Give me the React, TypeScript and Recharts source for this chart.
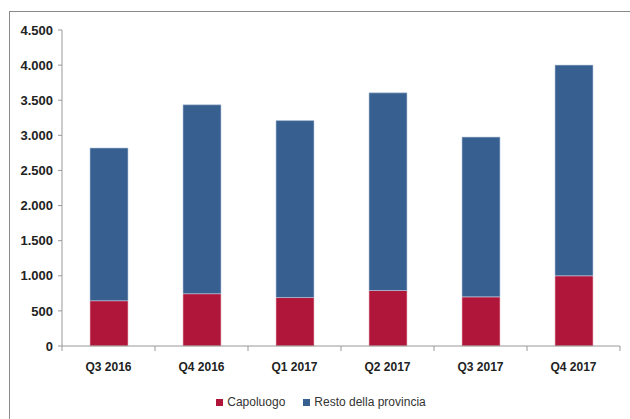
import React from "react";
import { BarChart, Bar, XAxis, YAxis, Legend } from "recharts";

const categories = ["Q3 2016", "Q4 2016", "Q1 2017", "Q2 2017", "Q3 2017", "Q4 2017"];
const capoluogo = [645, 745, 690, 790, 700, 1000];
const restoProvincia = [2175, 2690, 2520, 2815, 2275, 3000];
const yTicks = [0, 500, 1000, 1500, 2000, 2500, 3000, 3500, 4000, 4500];

const data = categories.map((c, i) => ({
  name: c,
  Capoluogo: capoluogo[i],
  Resto: restoProvincia[i],
}));

const FONT = "'Liberation Sans', Arial, sans-serif";
const RED = "#B0163A";
const BLUE = "#376090";

const fmt = (v: number) => v.toString().replace(/\B(?=(\d{3})+(?!\d))/g, ".");

const XTick = (props: any) => {
  const { x, y, payload, index, width, visibleTicksCount } = props;
  const band = width / visibleTicksCount;
  const left = x - band / 2;
  const right = x + band / 2;
  return (
    <g>
      <line x1={left} x2={left} y1={y} y2={y + 5} stroke="#999" />
      {index === visibleTicksCount - 1 && (
        <line x1={right} x2={right} y1={y} y2={y + 5} stroke="#999" />
      )}
      <text
        x={x}
        y={y + 25}
        textAnchor="middle"
        fontFamily={FONT}
        fontWeight="bold"
        fontSize={12}
        fill="#222"
      >
        {payload.value}
      </text>
    </g>
  );
};

const LegendContent = () => (
  <div
    style={{
      display: "flex",
      justifyContent: "center",
      paddingLeft: 22,
      fontFamily: FONT,
      fontSize: 12,
      color: "#333",
      alignItems: "center",
      height: 20,
    }}
  >
    <span style={{ display: "inline-block", width: 7, height: 7, background: RED, marginRight: 4 }} />
    <span style={{ marginRight: 18 }}>Capoluogo</span>
    <span style={{ display: "inline-block", width: 7, height: 7, background: BLUE, marginRight: 4 }} />
    <span>Resto della provincia</span>
  </div>
);

export default function App() {
  return (
    <div style={{ position: "absolute", left: 0, top: 0, width: 630, height: 419, overflow: "hidden", background: "#fff" }}>
      <div
        style={{
          position: "absolute",
          left: 9,
          top: 11,
          width: 700,
          height: 500,
          border: "1px solid #8a8a8a",
          boxSizing: "border-box",
        }}
      />
      <BarChart
        width={630}
        height={419}
        data={data}
        margin={{ top: 30, right: 10, left: 0, bottom: 0 }}
        barSize={38}
        style={{ position: "absolute", left: 0, top: 0 }}
      >
        <XAxis
          dataKey="name"
          axisLine={{ stroke: "#999" }}
          tickLine={false}
          tickSize={0}
          tickMargin={0}
          height={46}
          interval={0}
          tick={<XTick />}
        />
        <YAxis
          width={62}
          domain={[0, 4500]}
          ticks={yTicks}
          tickFormatter={fmt}
          axisLine={{ stroke: "#999" }}
          tickLine={{ stroke: "#999" }}
          tickSize={4}
          tickMargin={5}
          interval={0}
          tick={{ fontFamily: FONT, fontWeight: "bold", fontSize: 13, fill: "#222" }}
        />
        <Legend verticalAlign="bottom" height={27} content={<LegendContent />} />
        <Bar dataKey="Capoluogo" stackId="a" fill={RED} stroke="#e8b8c4" strokeWidth={0.6} isAnimationActive={false} />
        <Bar dataKey="Resto" stackId="a" fill={BLUE} stroke="#b8c8dc" strokeWidth={0.6} isAnimationActive={false} />
      </BarChart>
    </div>
  );
}
